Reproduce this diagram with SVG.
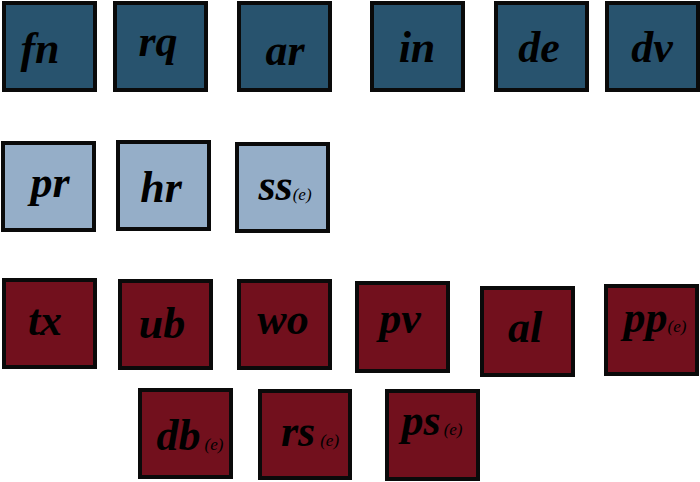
<svg xmlns="http://www.w3.org/2000/svg" width="700" height="482" viewBox="0 0 700 482">
<style>
.b{stroke:#0a0a0a;stroke-width:4}
.d .b{fill:#28536e}
.l .b{fill:#95aec8}
.r .b{fill:#72101d}
text{font-family:"Liberation Serif","DejaVu Serif",serif;font-style:italic;font-weight:bold;font-size:44px;fill:#000;text-anchor:middle}
text .s{font-size:17px;font-weight:normal}
</style>
<rect width="700" height="482" fill="#fff"/>
<g class="d">
<g id="fn"><rect class="b" x="4" y="3" width="91" height="87"/><text x="40" y="63">fn</text></g>
<g id="rq"><rect class="b" x="115" y="3" width="91" height="87"/><text x="158" y="56">rq</text></g>
<g id="ar"><rect class="b" x="239" y="3" width="91" height="87"/><text x="285" y="65">ar</text></g>
<g id="in"><rect class="b" x="372" y="3" width="91" height="87"/><text x="417" y="62">in</text></g>
<g id="de"><rect class="b" x="496" y="3" width="91" height="87"/><text x="539" y="62">de</text></g>
<g id="dv"><rect class="b" x="607" y="3" width="91" height="87"/><text x="652" y="62">dv</text></g>
</g>
<g class="l">
<g id="pr"><rect class="b" x="3" y="143" width="91" height="87"/><text x="50" y="197">pr</text></g>
<g id="hr"><rect class="b" x="118" y="142" width="91" height="87"/><text x="161" y="202">hr</text></g>
<g id="ss"><rect class="b" x="237" y="144" width="91" height="87"/><text x="285" y="200">ss<tspan class="s">(e)</tspan></text></g>
</g>
<g class="r">
<g id="tx"><rect class="b" x="4" y="280" width="91" height="87"/><text x="45" y="335">tx</text></g>
<g id="ub"><rect class="b" x="120" y="281" width="91" height="87"/><text x="162" y="338">ub</text></g>
<g id="wo"><rect class="b" x="239" y="281" width="91" height="87"/><text x="283" y="334">wo</text></g>
<g id="pv"><rect class="b" x="357" y="283" width="91" height="88"/><text x="400" y="333">pv</text></g>
<g id="al"><rect class="b" x="482" y="288" width="91" height="87"/><text x="525" y="342">al</text></g>
<g id="pp"><rect class="b" x="606" y="286" width="91" height="88"/><text x="655" y="332">pp<tspan class="s">(e)</tspan></text></g>
<g id="db"><rect class="b" x="140" y="390" width="91" height="87"/><text x="190" y="450">db<tspan class="s" dx="4">(e)</tspan></text></g>
<g id="rs"><rect class="b" x="260" y="391" width="90" height="87"/><text x="310" y="446">rs<tspan class="s" dx="5">(e)</tspan></text></g>
<g id="ps"><rect class="b" x="387" y="391" width="91" height="88"/><text x="432" y="435">ps<tspan class="s" dx="3">(e)</tspan></text></g>
</g>
<g id="connectors"></g>
</svg>
